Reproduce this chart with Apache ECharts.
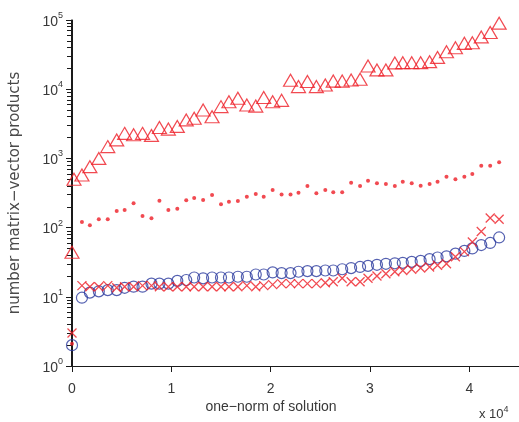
<!DOCTYPE html>
<html>
<head>
<meta charset="utf-8">
<script src="https://cdn.jsdelivr.net/npm/echarts@6/dist/echarts.min.js"></script>
<style>
  html, body { margin: 0; padding: 0; background: #fff; }
  #chart { width: 519px; height: 422px; }
</style>
</head>
<body>
<div id="chart"></div>
<script>
// One-norm of the solution (in units of 1e4) for each test problem
const normX = [0.10, 0.18, 0.27, 0.36, 0.45, 0.53, 0.62, 0.71, 0.80, 0.88,
               0.97, 1.06, 1.15, 1.23, 1.32, 1.41, 1.50, 1.58, 1.67, 1.76,
               1.85, 1.93, 2.02, 2.11, 2.20, 2.28, 2.37, 2.46, 2.55, 2.63,
               2.72, 2.81, 2.90, 2.98, 3.07, 3.16, 3.25, 3.33, 3.42, 3.51,
               3.60, 3.68, 3.77, 3.86, 3.95, 4.03, 4.12, 4.21, 4.30];

// Extra leading problems at the origin
const triangleStartX = [0, 0.02];
const triangleStartVals = [44, 500];
const otherStartX = [0];
const dotStartVals = [2.1];
const crossStartVals = [3];
const circleStartVals = [2];

// Matrix-vector products per method
const triangleVals = [575, 760, 1000, 1480, 1850, 2300, 2200, 2300, 2150, 2800,
                      2650, 2900, 3600, 3800, 5000, 4000, 5600, 6600, 7400, 5900,
                      5700, 7600, 6600, 6900, 13500, 10900, 12900, 10900, 11500, 13100,
                      13100, 13600, 13900, 21600, 19000, 19000, 24000, 24200, 24200, 24200,
                      25000, 28800, 34800, 39800, 46000, 47000, 57000, 66000, 90000];

const dotVals = [120, 108, 132, 132, 174, 180, 224, 147, 136, 245,
                 180, 188, 248, 268, 251, 296, 217, 237, 242, 280,
                 306, 280, 349, 302, 302, 320, 400, 313, 349, 324,
                 324, 446, 400, 475, 436, 426, 400, 460, 436, 403,
                 426, 460, 545, 500, 545, 595, 785, 785, 880];

const crossVals = [14.5, 14, 14, 14.5, 13.5, 14, 14, 14.5, 14.5, 14,
                   14, 14, 14, 14, 14, 14, 14, 14, 14, 14.5,
                   14, 14.5, 15, 15.5, 15.5, 15.5, 15.5, 15.5, 16, 16.5,
                   18.5, 16.5, 16.5, 18.5, 20, 21.5, 23, 24, 25, 26,
                   27, 28.5, 30, 38, 45, 62, 88, 138, 132];

const circleVals = [9.7, 11.5, 12, 12.5, 12.5, 13.5, 14, 14, 15.5, 15.5,
                    15.5, 17, 17.5, 19, 18.5, 19, 19, 19, 19.5, 19.5,
                    21, 21, 22.5, 22, 22, 23, 23.5, 23.5, 24, 24,
                    25, 26, 27, 28, 29, 30, 30.5, 31, 32, 33,
                    35, 37, 38.5, 42, 46, 50, 56, 60, 72];

// Axis ticks
const xTickValues = [0, 1, 2, 3, 4];
const yMin = 1;
const yMax = 100000;
// Minor y ticks (2..9 within each decade), as decimal exponents
const yMinorExp = [];
for (let d = 0; d < 5; d++) {
  for (let k = 2; k <= 9; k++) yMinorExp.push(d + Math.log10(k));
}

const RED = '#ee1d25';
const BLUE = '#2a3a9e';
const AXIS = '#1a1a1a';
const TEXT = '#383838';
const FONT = 'Liberation Sans, Arial, sans-serif';

function pairs(xs, ys) {
  return ys.map((v, i) => [xs[i], v]);
}

const chart = echarts.init(document.getElementById('chart'), null, { renderer: 'canvas' });

const crossPath = 'path://M0,0L10,10M10,0L0,10';
const plotRect = { left: 71, top: 20, width: 449, height: 346 };

chart.setOption({
  animation: false,
  backgroundColor: '#fff',
  // grid 0 holds the data, grid 1 (same rectangle) only carries the minor y ticks
  grid: [Object.assign({}, plotRect), Object.assign({}, plotRect)],
  xAxis: [{
    gridIndex: 0,
    type: 'value',
    min: 0,
    max: 4.5,
    interval: 1,
    axisLine: { show: true, lineStyle: { color: AXIS, width: 1 } },
    axisTick: { show: true, length: 6, customValues: xTickValues, lineStyle: { color: AXIS } },
    axisLabel: {
      customValues: xTickValues,
      margin: 16,
      color: TEXT,
      fontSize: 14,
      fontFamily: FONT
    },
    splitLine: { show: false }
  }, {
    gridIndex: 1,
    type: 'value',
    min: 0,
    max: 4.5,
    axisLine: { show: false },
    axisTick: { show: false },
    axisLabel: { show: false },
    splitLine: { show: false }
  }],
  yAxis: [{
    gridIndex: 0,
    type: 'log',
    logBase: 10,
    min: yMin,
    max: yMax,
    axisLine: { show: true, lineStyle: { color: AXIS, width: 1 } },
    axisTick: { show: true, length: 6, lineStyle: { color: AXIS, width: 1 } },
    axisLabel: {
      margin: 9,
      formatter: function (v) {
        return '{b|10}{s|' + Math.round(Math.log10(v)) + '}';
      },
      rich: {
        b: { fontSize: 14, color: TEXT, fontFamily: FONT, lineHeight: 18, verticalAlign: 'bottom' },
        s: { fontSize: 9, color: TEXT, fontFamily: FONT, verticalAlign: 'top', lineHeight: 18 }
      }
    },
    splitLine: { show: false },
    name: 'number matrix\u2212vector products',
    nameLocation: 'middle',
    nameGap: 49,
    nameTextStyle: { color: '#4a4a4a', fontSize: 15, fontFamily: 'DejaVu Sans, sans-serif' }
  }, {
    gridIndex: 1,
    type: 'value',
    min: Math.log10(yMin),
    max: Math.log10(yMax),
    axisLine: { show: true, lineStyle: { color: AXIS, width: 1 } },
    axisTick: { show: true, length: 4, customValues: yMinorExp, lineStyle: { color: AXIS, width: 1 } },
    axisLabel: { show: false },
    splitLine: { show: false }
  }],
  graphic: [{
    type: 'text',
    x: 271,
    y: 407,
    style: {
      text: 'one\u2212norm of solution',
      fill: TEXT,
      font: '14px "Liberation Sans", Arial, sans-serif',
      textAlign: 'center',
      textVerticalAlign: 'middle'
    }
  }, {
    type: 'text',
    x: 479,
    y: 413,
    style: {
      text: '{b|x 10}{s|4}',
      textAlign: 'left',
      textVerticalAlign: 'middle',
      rich: {
        b: { fontSize: 13, fill: TEXT, fontFamily: FONT, lineHeight: 16, verticalAlign: 'bottom' },
        s: { fontSize: 9, fill: TEXT, fontFamily: FONT, lineHeight: 16, verticalAlign: 'top' }
      }
    }
  }],
  series: [{
    name: 'circles',
    type: 'scatter',
    data: pairs(otherStartX, circleStartVals).concat(pairs(normX, circleVals)),
    symbol: 'circle',
    symbolSize: 11,
    itemStyle: { color: 'transparent', borderColor: BLUE, borderWidth: 1.2 },
    z: 2
  }, {
    name: 'crosses',
    type: 'scatter',
    data: pairs(otherStartX, crossStartVals).concat(pairs(normX, crossVals)),
    symbol: crossPath,
    symbolSize: 9,
    itemStyle: { color: 'none', borderColor: RED, borderWidth: 1.3 },
    z: 3
  }, {
    name: 'dots',
    type: 'scatter',
    data: pairs(otherStartX, dotStartVals).concat(pairs(normX, dotVals)),
    symbol: 'circle',
    symbolSize: 4,
    itemStyle: { color: RED },
    z: 4
  }, {
    name: 'triangles',
    type: 'scatter',
    data: pairs(triangleStartX, triangleStartVals).concat(pairs(normX, triangleVals)),
    symbol: 'triangle',
    symbolSize: [14, 12],
    itemStyle: { color: 'transparent', borderColor: RED, borderWidth: 1.2 },
    z: 5
  }]
});
</script>
</body>
</html>
